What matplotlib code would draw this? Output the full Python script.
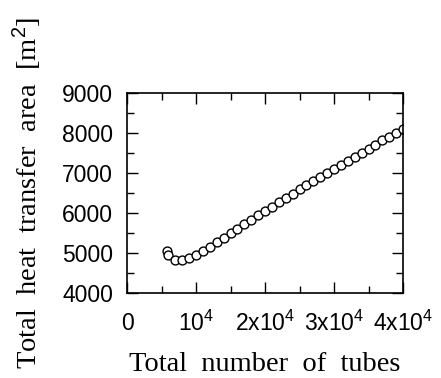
import matplotlib
matplotlib.use("Agg")
import matplotlib.pyplot as plt
from matplotlib.ticker import MultipleLocator, FixedLocator

# data
tubes = [5750, 6000, 7000, 8000, 9000, 10000, 11000, 12000, 13000, 14000,
         15000, 16000, 17000, 18000, 19000, 20000, 21000, 22000, 23000, 24000,
         25000, 26000, 27000, 28000, 29000, 30000, 31000, 32000, 33000, 34000,
         35000, 36000, 37000, 38000, 39000, 40000]
area = [5040, 4960, 4830, 4820, 4870, 4960, 5055, 5155, 5270, 5385,
        5495, 5605, 5720, 5835, 5940, 6050, 6160, 6275, 6375, 6480,
        6590, 6700, 6800, 6905, 7010, 7110, 7205, 7305, 7410, 7510,
        7600, 7705, 7815, 7910, 8000, 8100]

xtick_pos = [0, 10000, 20000, 30000, 40000]
xtick_labels = ["0", "$10^4$", "$2x10^4$", "$3x10^4$", "$4x10^4$"]

plt.rcParams["mathtext.fontset"] = "custom"
plt.rcParams["mathtext.rm"] = "Liberation Sans"
plt.rcParams["mathtext.it"] = "Liberation Sans"

fig = plt.figure(figsize=(4.41, 3.78), dpi=100)
ax = fig.add_axes([0.288, 0.225, 0.626, 0.529])

ax.plot(tubes, area, "o", mfc="white", mec="black", ms=6.4, mew=1.0)

ax.set_xlim(0, 40000)
ax.set_ylim(4000, 9000)
ax.xaxis.set_major_locator(FixedLocator(xtick_pos))
ax.xaxis.set_minor_locator(MultipleLocator(5000))
ax.yaxis.set_major_locator(MultipleLocator(1000))
ax.yaxis.set_minor_locator(MultipleLocator(500))
ax.set_xticklabels(xtick_labels)

ax.tick_params(which="both", direction="in", top=True, right=True, width=1)
ax.tick_params(which="major", length=8, labelsize=16.5)
ax.tick_params(axis="x", which="major", pad=27)
ax.tick_params(axis="y", which="major", pad=10)
ax.tick_params(which="minor", length=5)
for lab in ax.get_xticklabels():
    lab.set_va("baseline")
for lab in ax.get_xticklabels() + ax.get_yticklabels():
    lab.set_family("Liberation Sans")
for sp in ax.spines.values():
    sp.set_linewidth(1.2)

ax.set_xlabel("Total  number  of  tubes", family="Liberation Serif",
              fontsize=20.5, labelpad=12)
ax.set_ylabel("Total  heat  transfer  area  [m$^2$]", family="Liberation Serif",
              fontsize=20.5, labelpad=13)

fig.savefig("out.png", dpi=100)
